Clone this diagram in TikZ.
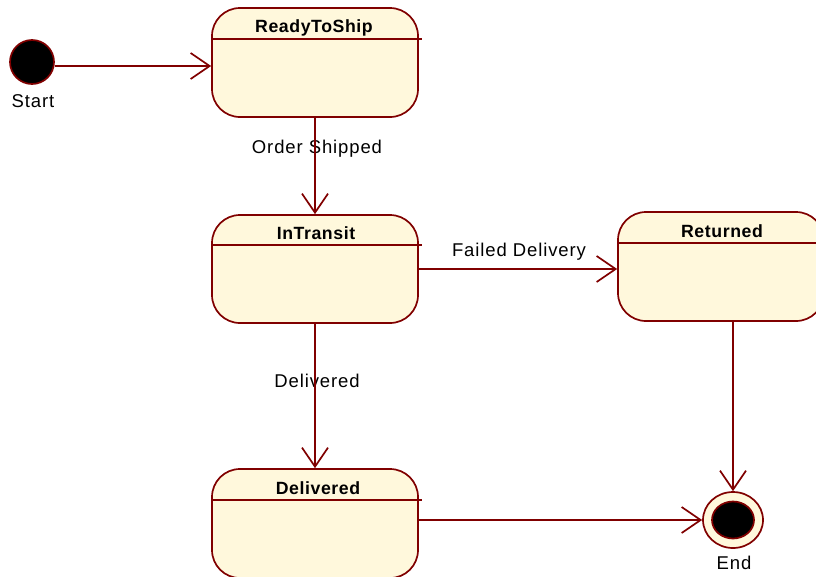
\documentclass[tikz,border=0pt]{standalone}
\usepackage{fontspec}
\setmainfont{Liberation Sans}
\newfontfamily\lblfont[LetterSpace=4.8]{Liberation Sans}
\newfontfamily\ttlfont[LetterSpace=3.3]{Liberation Sans}
\usetikzlibrary{arrows.meta,shapes.geometric}
\definecolor{edge}{RGB}{128,0,0}
\definecolor{cream}{RGB}{255,248,220}
\tikzset{
  statebox/.style={draw=edge, fill=cream, line width=1.7pt, rounded corners=28pt,
    minimum width=206pt, minimum height=109pt, inner sep=0pt},
  title/.style={font=\ttlfont\fontsize{17.7}{20}\selectfont\bfseries, text=black, inner sep=0pt},
  lbl/.style={font=\lblfont\fontsize{18.5}{20}\selectfont, text=black, inner sep=0pt},
  arr/.style={draw=edge, line width=1.7pt, -{Straight Barb[length=19pt,width=26pt,line width=1.7pt]}},
  divider/.style={draw=edge, line width=1.7pt}
}
\begin{document}
\begin{tikzpicture}[x=1pt,y=-1pt]
\useasboundingbox (0,0) rectangle (816,576);
\clip (0,0) rectangle (816,576);
% states
\node[statebox] (rts) at (315,62.5) {};
\node[statebox, minimum height=108pt] (it) at (315,269) {};
\node[statebox] (ret) at (721,266.5) {};
\node[statebox] (del) at (315,523.5) {};
% dividers
\draw[divider] ([yshift=-32pt]rts.north west) -- ([yshift=-32pt,xshift=3pt]rts.north east);
\draw[divider] ([yshift=-31pt]it.north west) -- ([yshift=-31pt,xshift=3pt]it.north east);
\draw[divider] ([yshift=-32pt]ret.north west) -- ([yshift=-32pt,xshift=3pt]ret.north east);
\draw[divider] ([yshift=-32pt]del.north west) -- ([yshift=-32pt,xshift=3pt]del.north east);
% titles
\node[title] (trts) at (314,28) {ReadyToShip};
\node[title] (tit) at (316,233) {InTransit};
\node[title] (tret) at (722,231) {Returned};
\node[title] (tdel) at (318,488.5) {Delivered};
% pseudo states
\node[circle, draw=edge, fill=black, line width=1.7pt, minimum size=44pt, inner sep=0pt] (start) at (32,62) {};
\node[lbl] (lstart) at (33,101) {Start};
\node[ellipse, draw=edge, fill=cream, line width=1.7pt, minimum width=60pt, minimum height=56pt, inner sep=0pt] (end) at (733,520) {};
\node[ellipse, draw=edge, fill=black, line width=1.7pt, minimum width=42pt, minimum height=37pt, inner sep=0pt] (endin) at (733,520) {};
\node[lbl] (lend) at (734,563) {End};
% labels
\node[lbl] (l1) at (317,149) {Order Shipped};
\node[lbl] (l2) at (519,252) {Failed Delivery};
\node[lbl] (l3) at (317,381) {Delivered};
% transitions
\draw[arr] ([yshift=-4pt]start.east) -- ([yshift=-4pt]start.east -| rts.west);
\draw[arr] (rts.south) -- (it.north);
\draw[arr] (it.east) -- (it.east -| ret.west);
\draw[arr] (it.south) -- (del.north);
\draw[arr] (end.north |- ret.south) -- (end.north);
\draw[arr] (del.east |- end.west) -- (end.west);
\end{tikzpicture}
\end{document}
